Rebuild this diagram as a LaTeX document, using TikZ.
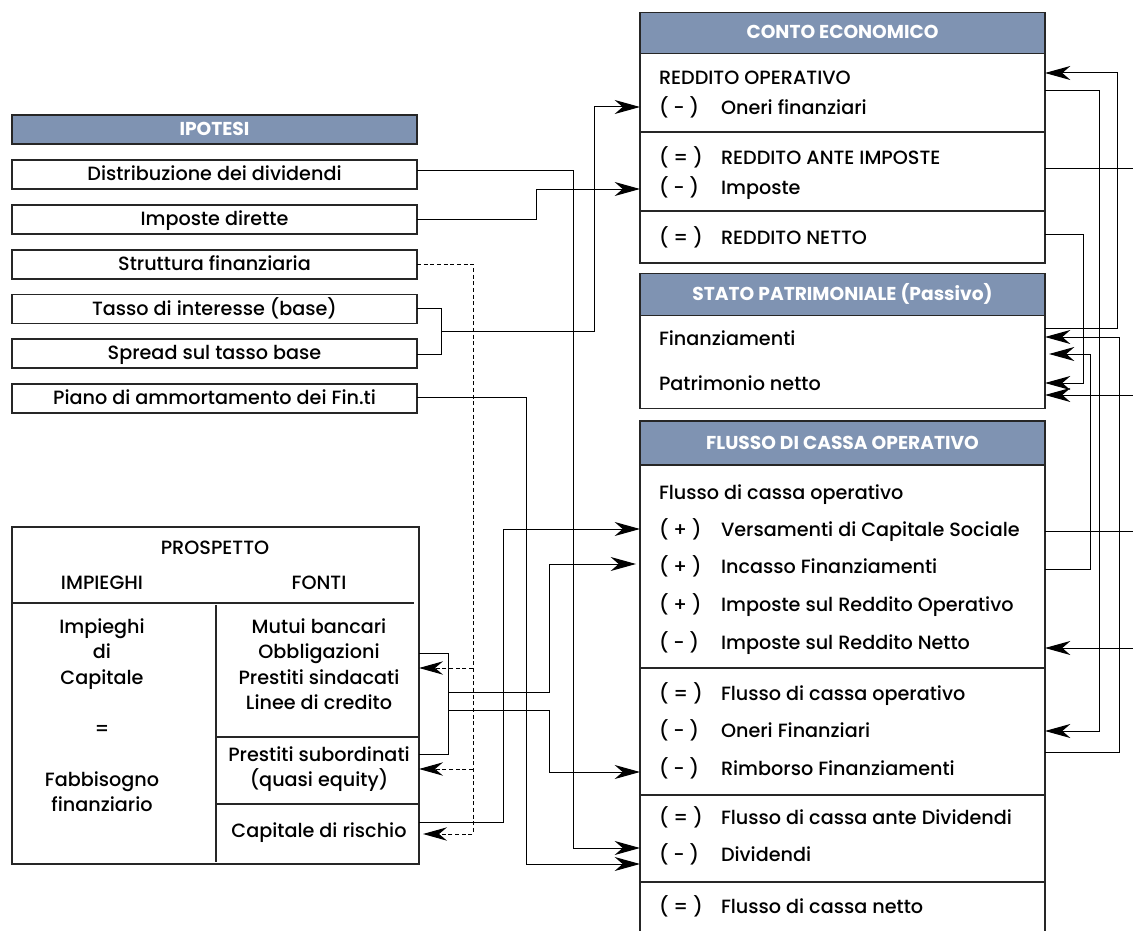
\documentclass[tikz,border=0pt]{standalone}
\usepackage{fontspec}
\setmainfont{Poppins}[UprightFont=* Medium, BoldFont=* Bold]
\usetikzlibrary{arrows.meta}
\definecolor{hdrblue}{HTML}{7F93B2}
\definecolor{boxline}{HTML}{262626}
\begin{document}
\begin{tikzpicture}[x=0.75pt,y=-0.75pt,
  every node/.style={inner sep=0pt, outer sep=0pt},
  txt/.style={font=\fontsize{14.4}{17}\selectfont, text height=12pt, text depth=2.5pt},
  hdr/.style={draw=boxline, line width=1.1pt, fill=hdrblue, text=white,
    font=\fontsize{14}{16}\selectfont\bfseries, text height=11.5pt, text depth=2.5pt},
  ipbox/.style={txt, draw=boxline, line width=1.1pt,
    minimum width={405*0.75pt}, minimum height={29*0.75pt}},
  body/.style={draw=boxline, line width=1.1pt},
  sep/.style={draw=boxline, line width=1.1pt},
  lrow/.style={txt, anchor=west},
  link/.style={line width=0.75pt},
  arr/.style={link, -{Stealth[length=19pt,width=10.5pt,inset=6pt]}},
  dlink/.style={line width=0.75pt, dash pattern=on 3pt off 2pt},
  darr/.style={dlink, -{Stealth[length=18pt,width=10pt,inset=6pt]}},
  ]
\useasboundingbox (0,0) rectangle (1133,931);
\clip (0,0) rectangle (1133,931);

% ---------- IPOTESI ----------
\node[hdr, minimum width={405*0.75pt}, minimum height={29*0.75pt}] (iph) at (214.5,129.5) {IPOTESI};
\node[ipbox] (dist)   at (214.5,174.5) {Distribuzione dei dividendi};
\node[ipbox] (impd)   at (214.5,219.5) {Imposte dirette};
\node[ipbox] (strut)  at (214.5,264.5) {Struttura finanziaria};
\node[ipbox] (tasso)  at (214.5,309)   {Tasso di interesse (base)};
\node[ipbox] (spread) at (214.5,353.5) {Spread sul tasso base};
\node[ipbox] (piano)  at (214.5,398.5) {Piano di ammortamento dei Fin.ti};

% ---------- PROSPETTO ----------
\node[body, minimum width={407*0.75pt}, minimum height={337*0.75pt}] (pros) at (215.5,695.5) {};
\node[txt] (prt)  at (215,548) {PROSPETTO};
\node[txt] (pimp) at (102,583) {IMPIEGHI};
\node[txt] (pfon) at (319,583) {FONTI};
\draw[sep] (pros.west |- 0,603) -- (414,603);
\draw[sep] (216,605) -- (216,862);
\draw[sep] (216,737) -- (pros.east |- 0,737);
\draw[sep] (216,804) -- (pros.east |- 0,804);
\node[txt] (l1) at (102,627) {Impieghi};
\node[txt] (l2) at (102,652) {di};
\node[txt] (l3) at (102,678) {Capitale};
\node[txt] (l4) at (102,729) {=};
\node[txt] (l5) at (102,780) {Fabbisogno};
\node[txt] (l6) at (102,805) {finanziario};
\node[txt] (r1) at (319,627) {Mutui bancari};
\node[txt] (r2) at (319,652) {Obbligazioni};
\node[txt] (r3) at (319,678) {Prestiti sindacati};
\node[txt] (r4) at (319,703) {Linee di credito};
\node[txt] (r5) at (319,755) {Prestiti subordinati};
\node[txt] (r6) at (319,780) {(quasi equity)};
\node[txt] (r7) at (319,831) {Capitale di rischio};

% ---------- CONTO ECONOMICO ----------
\node[hdr, minimum width={405*0.75pt}, minimum height={40.6*0.75pt}] (ceh) at (842.5,33) {CONTO ECONOMICO};
\node[body, minimum width={405*0.75pt}, minimum height={209.7*0.75pt}] (ce) at (842.5,158.15) {};
\draw[sep] (ce.west |- 0,132) -- (ce.east |- 0,132);
\draw[sep] (ce.west |- 0,211) -- (ce.east |- 0,211);
\node[lrow] (ce1) at (659,78)  {REDDITO OPERATIVO};
\node[lrow] (ce2p) at (659,108) {( - )};
\node[lrow] (ce2) at (721,108) {Oneri finanziari};
\node[lrow] (ce3p) at (659,158) {( = )};
\node[lrow] (ce3) at (721,158) {REDDITO ANTE IMPOSTE};
\node[lrow] (ce4p) at (659,188) {( - )};
\node[lrow] (ce4) at (721,188) {Imposte};
\node[lrow] (ce5p) at (659,238) {( = )};
\node[lrow] (ce5) at (721,238) {REDDITO NETTO};

% ---------- STATO PATRIMONIALE ----------
\node[hdr, minimum width={405*0.75pt}, minimum height={42.2*0.75pt}] (sph) at (842.5,294.4) {STATO PATRIMONIALE (Passivo)};
\node[body, minimum width={405*0.75pt}, minimum height={93*0.75pt}] (sp) at (842.5,362) {};
\node[lrow] (sp1) at (659,339) {Finanziamenti};
\node[lrow] (sp2) at (659,384) {Patrimonio netto};

% ---------- FLUSSO DI CASSA ----------
\node[hdr, minimum width={405*0.75pt}, minimum height={44*0.75pt}] (fch) at (842.5,443) {FLUSSO DI CASSA OPERATIVO};
\node[body, minimum width={405*0.75pt}, minimum height={480*0.75pt}] (fc) at (842.5,705) {};
\draw[sep] (fc.west |- 0,668) -- (fc.east |- 0,668);
\draw[sep] (fc.west |- 0,795) -- (fc.east |- 0,795);
\draw[sep] (fc.west |- 0,882) -- (fc.east |- 0,882);
\node[lrow] (fc0) at (659,493) {Flusso di cassa operativo};
\node[lrow] at (659,530) {( + )};
\node[lrow] (fc1) at (721,530) {Versamenti di Capitale Sociale};
\node[lrow] at (659,567) {( + )};
\node[lrow] (fc2) at (721,567) {Incasso Finanziamenti};
\node[lrow] at (659,605) {( + )};
\node[lrow] (fc3) at (721,605) {Imposte sul Reddito Operativo};
\node[lrow] at (659,643) {( - )};
\node[lrow] (fc4) at (721,643) {Imposte sul Reddito Netto};
\node[lrow] at (659,694) {( = )};
\node[lrow] (fc5) at (721,694) {Flusso di cassa operativo};
\node[lrow] at (659,731) {( - )};
\node[lrow] (fc6) at (721,731) {Oneri Finanziari};
\node[lrow] at (659,769) {( - )};
\node[lrow] (fc7) at (721,769) {Rimborso Finanziamenti};
\node[lrow] at (659,818) {( = )};
\node[lrow] (fc8) at (721,818) {Flusso di cassa ante Dividendi};
\node[lrow] at (659,855) {( - )};
\node[lrow] (fc9) at (721,855) {Dividendi};
\node[lrow] at (659,907) {( = )};
\node[lrow] (fc10) at (721,907) {Flusso di cassa netto};

% ---------- left-side connectors ----------
\draw[arr] (dist.east |- 0,171) -- (573,171) -- (573,848) -- (fc.west |- 0,848);
\draw[arr] (impd.east |- 0,219) -- (536,219) -- (536,189) -- (ce.west |- 0,189);
\draw[link] (tasso.east |- 0,308) -- (441,308) -- (441,354) -- (spread.east |- 0,354);
\draw[arr] (441,331) -- (594,331) -- (594,107) -- (ce.west |- 0,107);
\draw[arr] (piano.east |- 0,397) -- (526,397) -- (526,864) -- (fc.west |- 0,864);
% struttura finanziaria (dashed)
\draw[darr] (strut.east |- 0,264) -- (473,264) -- (473,834) -- ([xshift=3pt]pros.east |- 0,834);
\draw[darr] (473,668) -- (pros.east |- 0,668);
\draw[darr] (473,769) -- (pros.east |- 0,769);
% from the prospetto
\draw[arr] (pros.east |- 0,822) -- (503,822) -- (503,529) -- (fc.west |- 0,529);
\draw[link] (pros.east |- 0,653) -- (448,653) -- (448,754) -- (pros.east |- 0,754);
\draw[arr] (448,692) -- (549,692) -- (549,564) -- ([xshift=-3pt]fc.west |- 0,564);
\draw[arr] (448,710) -- (549,710) -- (549,772) -- (fc.west |- 0,772);

% ---------- right-side connectors ----------
\coordinate (edgeA) at (1133,169);
\coordinate (edgeB) at (1133,395);
\coordinate (edgeC) at (1133,531);
\coordinate (edgeD) at (1133,648);
\draw[arr] (sp.east |- 0,328) -- (1117,328) -- (1117,73) -- (ce.east |- 0,73);
\draw[arr] (ce.east |- 0,91) -- (1099,91) -- (1099,731) -- (fc.east |- 0,731);
\draw[link] (ce.east |- 0,169) -- (edgeA);
\draw[arr] (ce.east |- 0,234) -- (1083,234) -- (1083,383) -- (sp.east |- 0,383);
\draw[arr] (fc.east |- 0,752) -- (1119,752) -- (1119,337) -- (sp.east |- 0,337);
\draw[arr] (fc.east |- 0,569) -- (1090,569) -- (1090,354) -- ([xshift=3pt]sp.east |- 0,354);
\draw[arr] (edgeB) -- (sp.east |- 0,395);
\draw[link] (fc.east |- 0,531) -- (edgeC);
\draw[arr] (edgeD) -- (fc.east |- 0,648);
\end{tikzpicture}
\end{document}
